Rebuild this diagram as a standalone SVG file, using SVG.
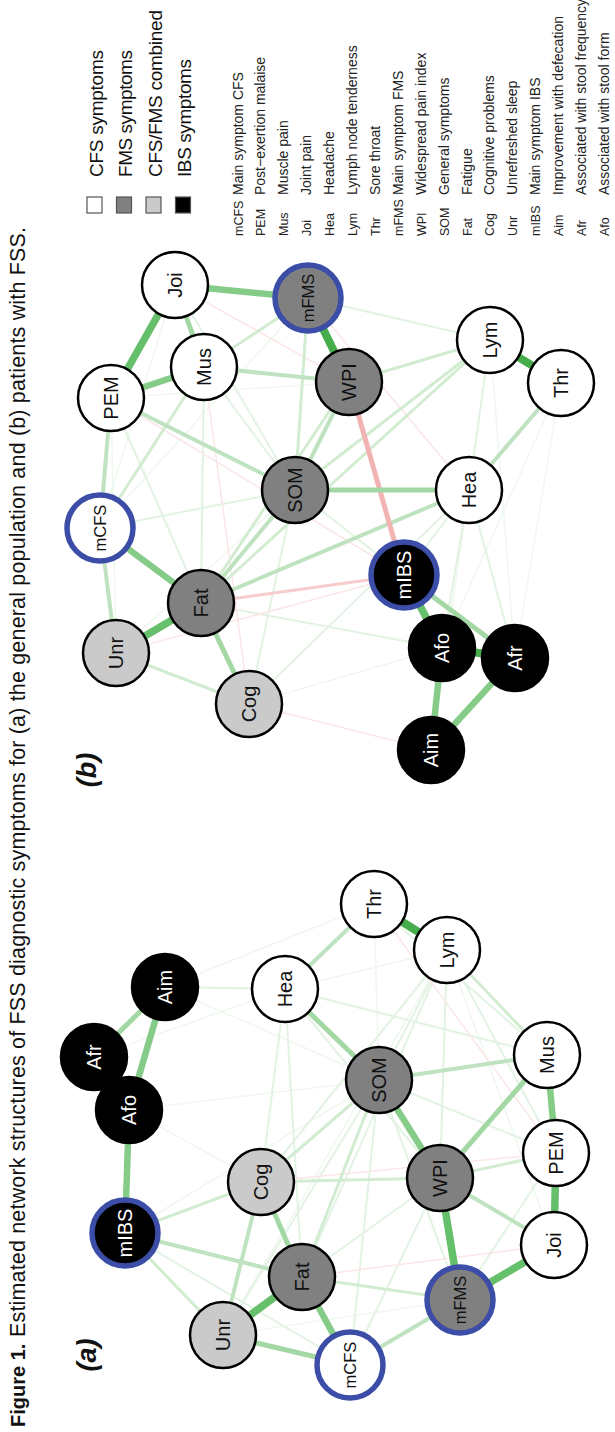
<svg xmlns="http://www.w3.org/2000/svg" width="615" height="1432" viewBox="0 0 615 1432">
  <style>
    text { font-family: "Liberation Sans", Arial, sans-serif; fill: #111; }
    .nd { stroke: #000; stroke-width: 2.5; }
    .main { stroke: #3b4da6; stroke-width: 5.5; }
    .cfs { fill: #ffffff; }
    .fms { fill: #808080; }
    .cmb { fill: #cacaca; }
    .ibs { fill: #000000; }
    .lbl { font-size: 20px; text-anchor: middle; }
    .sm { font-size: 16.5px; }
    .wt { fill: #ffffff; }
    .leg { font-size: 19px; }
    .abbr { font-size: 12.5px; fill: #222; }
    .desc { font-size: 14px; fill: #222; }
    .panel { font-size: 27px; font-weight: bold; font-style: italic; text-anchor: middle; }
    line { stroke-linecap: butt; fill: none; }
    .g1 { stroke: #45ad4c; stroke-width: 8; }
    .g2 { stroke: #66bf6b; stroke-width: 7.5; }
    .g3 { stroke: #85cc88; stroke-width: 6.5; }
    .g4 { stroke: #a3d8a5; stroke-width: 5; }
    .g5 { stroke: #bfe3c0; stroke-width: 4; }
    .g6 { stroke: #d2ecd2; stroke-width: 3; }
    .g7 { stroke: #e3f3e3; stroke-width: 2; }
    .g8 { stroke: #eef8ee; stroke-width: 1.5; }
    .r1 { stroke: #f2b3b3; stroke-width: 5; }
    .r2 { stroke: #f6cccc; stroke-width: 3; }
    .r3 { stroke: #fbe6e6; stroke-width: 1.5; }
  </style>

  <rect x="0" y="0" width="615" height="1432" fill="#ffffff"/>

  <!-- caption, set vertically -->
  <g id="caption">
    <text x="25" y="1427" transform="rotate(-90 25 1427)" font-size="20" font-weight="bold">Figure 1.</text>
    <text x="25" y="1337" transform="rotate(-90 25 1337)" font-size="21.5" textLength="1110" lengthAdjust="spacing">Estimated network structures of FSS diagnostic symptoms for (a) the general population and (b) patients with FSS.</text>
  </g>

  <!-- panel labels -->
  <g id="panel-labels">
    <text class="panel" x="88" y="1355" dy="0.3em" transform="rotate(-90 88 1355)">(a)</text>
    <text class="panel" x="88" y="770" dy="0.3em" transform="rotate(-90 88 770)">(b)</text>
  </g>

  <!-- colour legend -->
  <g id="legend">
    <rect x="87" y="197" width="15" height="16" fill="#ffffff" stroke="#555" stroke-width="1.2"/>
    <rect x="116.5" y="197" width="15" height="16" fill="#808080" stroke="#555" stroke-width="1.2"/>
    <rect x="146" y="197" width="15" height="16" fill="#cacaca" stroke="#555" stroke-width="1.2"/>
    <rect x="175.5" y="197" width="15" height="16" fill="#000000" stroke="#555" stroke-width="1.2"/>
    <text class="leg" x="103" y="177" transform="rotate(-90 103 177)" textLength="127" lengthAdjust="spacing">CFS symptoms</text>
    <text class="leg" x="132" y="177" transform="rotate(-90 132 177)" textLength="127" lengthAdjust="spacing">FMS symptoms</text>
    <text class="leg" x="161.5" y="177" transform="rotate(-90 161.5 177)" textLength="167" lengthAdjust="spacing">CFS/FMS combined</text>
    <text class="leg" x="191" y="177" transform="rotate(-90 191 177)" textLength="118" lengthAdjust="spacing">IBS symptoms</text>
  </g>

  <!-- abbreviation key -->
  <g id="abbreviations">
    <text class="abbr" x="242.5" y="236" transform="rotate(-90 242.5 236)">mCFS</text>
    <text class="desc" x="242.5" y="195" transform="rotate(-90 242.5 195)">Main symptom CFS</text>
    <text class="abbr" x="265.4" y="236" transform="rotate(-90 265.4 236)">PEM</text>
    <text class="desc" x="265.4" y="195" transform="rotate(-90 265.4 195)">Post−exertion malaise</text>
    <text class="abbr" x="288.3" y="236" transform="rotate(-90 288.3 236)">Mus</text>
    <text class="desc" x="288.3" y="195" transform="rotate(-90 288.3 195)">Muscle pain</text>
    <text class="abbr" x="311.2" y="236" transform="rotate(-90 311.2 236)">Joi</text>
    <text class="desc" x="311.2" y="195" transform="rotate(-90 311.2 195)">Joint pain</text>
    <text class="abbr" x="334.1" y="236" transform="rotate(-90 334.1 236)">Hea</text>
    <text class="desc" x="334.1" y="195" transform="rotate(-90 334.1 195)">Headache</text>
    <text class="abbr" x="357" y="236" transform="rotate(-90 357 236)">Lym</text>
    <text class="desc" x="357" y="195" transform="rotate(-90 357 195)">Lymph node tenderness</text>
    <text class="abbr" x="379.9" y="236" transform="rotate(-90 379.9 236)">Thr</text>
    <text class="desc" x="379.9" y="195" transform="rotate(-90 379.9 195)">Sore throat</text>
    <text class="abbr" x="402.8" y="236" transform="rotate(-90 402.8 236)">mFMS</text>
    <text class="desc" x="402.8" y="195" transform="rotate(-90 402.8 195)">Main symptom FMS</text>
    <text class="abbr" x="425.7" y="236" transform="rotate(-90 425.7 236)">WPI</text>
    <text class="desc" x="425.7" y="195" transform="rotate(-90 425.7 195)">Widespread pain index</text>
    <text class="abbr" x="448.6" y="236" transform="rotate(-90 448.6 236)">SOM</text>
    <text class="desc" x="448.6" y="195" transform="rotate(-90 448.6 195)">General symptoms</text>
    <text class="abbr" x="471.5" y="236" transform="rotate(-90 471.5 236)">Fat</text>
    <text class="desc" x="471.5" y="195" transform="rotate(-90 471.5 195)">Fatigue</text>
    <text class="abbr" x="494.4" y="236" transform="rotate(-90 494.4 236)">Cog</text>
    <text class="desc" x="494.4" y="195" transform="rotate(-90 494.4 195)">Cognitive problems</text>
    <text class="abbr" x="517.3" y="236" transform="rotate(-90 517.3 236)">Unr</text>
    <text class="desc" x="517.3" y="195" transform="rotate(-90 517.3 195)">Unrefreshed sleep</text>
    <text class="abbr" x="540.2" y="236" transform="rotate(-90 540.2 236)">mIBS</text>
    <text class="desc" x="540.2" y="195" transform="rotate(-90 540.2 195)">Main symptom IBS</text>
    <text class="abbr" x="563.1" y="236" transform="rotate(-90 563.1 236)">Aim</text>
    <text class="desc" x="563.1" y="195" transform="rotate(-90 563.1 195)">Improvement with defecation</text>
    <text class="abbr" x="586" y="236" transform="rotate(-90 586 236)">Afr</text>
    <text class="desc" x="586" y="195" transform="rotate(-90 586 195)">Associated with stool frequency</text>
    <text class="abbr" x="608.9" y="236" transform="rotate(-90 608.9 236)">Afo</text>
    <text class="desc" x="608.9" y="195" transform="rotate(-90 608.9 195)">Associated with stool form</text>
  </g>

  <!-- connectors of network (a) -->
  <g id="edges-a">
    <!-- faintest -->
    <line class="g8" x1="165" y1="987" x2="374" y2="904"/>
    <line class="g8" x1="94" y1="1057" x2="285" y2="989"/>
    <line class="g8" x1="165" y1="987" x2="379" y2="1080"/>
    <line class="g8" x1="261" y1="1182" x2="129" y2="1110"/>
    <line class="g8" x1="129" y1="1110" x2="379" y2="1080"/>
    <line class="g8" x1="223" y1="1335" x2="460" y2="1300"/>
    <line class="g8" x1="554" y1="1245" x2="547" y2="1055"/>
    <line class="g8" x1="447" y1="950" x2="554" y2="1245"/>
    <line class="g8" x1="374" y1="904" x2="379" y2="1080"/>
    <line class="g8" x1="285" y1="989" x2="447" y2="950"/>
    <line class="g8" x1="223" y1="1335" x2="447" y2="950"/>
    <line class="g8" x1="125" y1="1233" x2="379" y2="1080"/>
    <!-- faint -->
    <line class="g7" x1="285" y1="989" x2="165" y2="987"/>
    <line class="g7" x1="447" y1="950" x2="379" y2="1080"/>
    <line class="g7" x1="447" y1="950" x2="440" y2="1178"/>
    <line class="g7" x1="447" y1="950" x2="556" y2="1153"/>
    <line class="g7" x1="374" y1="904" x2="547" y2="1055"/>
    <line class="g7" x1="285" y1="989" x2="440" y2="1178"/>
    <line class="g7" x1="302" y1="1277" x2="440" y2="1178"/>
    <line class="g7" x1="223" y1="1335" x2="379" y2="1080"/>
    <line class="g7" x1="350" y1="1365" x2="379" y2="1080"/>
    <line class="g7" x1="285" y1="989" x2="261" y2="1182"/>
    <line class="g7" x1="125" y1="1233" x2="350" y2="1365"/>
    <line class="g7" x1="302" y1="1277" x2="447" y2="950"/>
    <line class="g7" x1="350" y1="1365" x2="440" y2="1178"/>
    <line class="g7" x1="379" y1="1080" x2="556" y2="1153"/>
    <line class="g7" x1="285" y1="989" x2="547" y2="1055"/>
    <line class="g7" x1="261" y1="1182" x2="447" y2="950"/>
    <line class="g7" x1="460" y1="1300" x2="556" y2="1153"/>
    <line class="g7" x1="460" y1="1300" x2="379" y2="1080"/>
    <line class="g7" x1="285" y1="989" x2="302" y2="1277"/>
    <line class="r3" x1="302" y1="1277" x2="554" y2="1245"/>
    <line class="r3" x1="261" y1="1182" x2="556" y2="1153"/>
    <line class="r3" x1="374" y1="904" x2="556" y2="1153"/>
    <!-- light -->
    <line class="g6" x1="302" y1="1277" x2="460" y2="1300"/>
    <line class="g6" x1="125" y1="1233" x2="261" y2="1182"/>
    <line class="g6" x1="440" y1="1178" x2="556" y2="1153"/>
    <line class="g6" x1="261" y1="1182" x2="440" y2="1178"/>
    <line class="g6" x1="125" y1="1233" x2="223" y2="1335"/>
    <line class="g6" x1="447" y1="950" x2="547" y2="1055"/>
    <line class="g6" x1="302" y1="1277" x2="379" y2="1080"/>
    <line class="g6" x1="261" y1="1182" x2="379" y2="1080"/>
    <!-- medium -->
    <line class="g5" x1="285" y1="989" x2="374" y2="904"/>
    <line class="g5" x1="350" y1="1365" x2="460" y2="1300"/>
    <line class="g5" x1="440" y1="1178" x2="554" y2="1245"/>
    <line class="g5" x1="125" y1="1233" x2="302" y2="1277"/>
    <line class="g5" x1="379" y1="1080" x2="547" y2="1055"/>
    <line class="g5" x1="223" y1="1335" x2="261" y2="1182"/>
    <line class="g4" x1="223" y1="1335" x2="350" y2="1365"/>
    <line class="g4" x1="440" y1="1178" x2="547" y2="1055"/>
    <line class="g4" x1="302" y1="1277" x2="261" y2="1182"/>
    <line class="g4" x1="285" y1="989" x2="379" y2="1080"/>
    <line class="g4" x1="94" y1="1057" x2="165" y2="987"/>
    <!-- strong -->
    <line class="g3" x1="125" y1="1233" x2="129" y2="1110"/>
    <line class="g3" x1="165" y1="987" x2="129" y2="1110"/>
    <line class="g3" x1="302" y1="1277" x2="350" y2="1365"/>
    <line class="g3" x1="556" y1="1153" x2="547" y2="1055"/>
    <line class="g3" x1="379" y1="1080" x2="440" y2="1178"/>
    <line class="g2" x1="556" y1="1153" x2="554" y2="1245"/>
    <line class="g2" x1="223" y1="1335" x2="302" y2="1277"/>
    <line class="g2" x1="460" y1="1300" x2="554" y2="1245"/>
    <line class="g2" x1="460" y1="1300" x2="440" y2="1178"/>
    <line class="g1" x1="129" y1="1110" x2="94" y2="1057"/>
    <line class="g1" x1="374" y1="904" x2="447" y2="950"/>
  </g>

  <!-- connectors of network (b) -->
  <g id="edges-b">
    <!-- faintest -->
    <line class="g8" x1="111" y1="398" x2="349" y2="382"/>
    <line class="g8" x1="100" y1="528" x2="175" y2="285"/>
    <line class="g8" x1="116" y1="653" x2="111" y2="398"/>
    <line class="g8" x1="431" y1="750" x2="469" y2="490"/>
    <line class="g8" x1="561" y1="383" x2="515" y2="658"/>
    <line class="g8" x1="490" y1="340" x2="515" y2="658"/>
    <line class="g8" x1="249" y1="704" x2="442" y2="648"/>
    <line class="g8" x1="116" y1="653" x2="295" y2="490"/>
    <line class="g8" x1="100" y1="528" x2="308" y2="298"/>
    <line class="g8" x1="561" y1="383" x2="442" y2="648"/>
    <!-- faint -->
    <line class="g7" x1="111" y1="398" x2="201" y2="603"/>
    <line class="g7" x1="308" y1="298" x2="490" y2="340"/>
    <line class="g7" x1="469" y1="490" x2="490" y2="340"/>
    <line class="g7" x1="295" y1="490" x2="249" y2="704"/>
    <line class="g7" x1="100" y1="528" x2="295" y2="490"/>
    <line class="g7" x1="175" y1="285" x2="295" y2="490"/>
    <line class="g7" x1="469" y1="490" x2="404" y2="575"/>
    <line class="g7" x1="469" y1="490" x2="442" y2="648"/>
    <line class="g7" x1="295" y1="490" x2="404" y2="575"/>
    <line class="g7" x1="249" y1="704" x2="469" y2="490"/>
    <line class="g7" x1="204" y1="367" x2="295" y2="490"/>
    <line class="g7" x1="204" y1="367" x2="201" y2="603"/>
    <line class="g7" x1="469" y1="490" x2="515" y2="658"/>
    <line class="g7" x1="201" y1="603" x2="442" y2="648"/>
    <line class="r3" x1="249" y1="704" x2="431" y2="750"/>
    <line class="r3" x1="204" y1="367" x2="249" y2="704"/>
    <line class="r3" x1="308" y1="298" x2="469" y2="490"/>
    <line class="r3" x1="111" y1="398" x2="404" y2="575"/>
    <line class="r3" x1="116" y1="653" x2="404" y2="575"/>
    <line class="r3" x1="175" y1="285" x2="349" y2="382"/>
    <!-- light -->
    <line class="g6" x1="204" y1="367" x2="100" y2="528"/>
    <line class="g6" x1="349" y1="382" x2="490" y2="340"/>
    <line class="g6" x1="116" y1="653" x2="249" y2="704"/>
    <line class="g6" x1="308" y1="298" x2="295" y2="490"/>
    <line class="g6" x1="201" y1="603" x2="349" y2="382"/>
    <line class="g6" x1="295" y1="490" x2="490" y2="340"/>
    <line class="g6" x1="201" y1="603" x2="490" y2="340"/>
    <line class="g6" x1="204" y1="367" x2="308" y2="298"/>
    <!-- medium -->
    <line class="g5" x1="100" y1="528" x2="116" y2="653"/>
    <line class="g5" x1="100" y1="528" x2="111" y2="398"/>
    <line class="g5" x1="295" y1="490" x2="349" y2="382"/>
    <line class="g5" x1="295" y1="490" x2="201" y2="603"/>
    <line class="g5" x1="469" y1="490" x2="561" y2="383"/>
    <line class="g5" x1="111" y1="398" x2="295" y2="490"/>
    <line class="g5" x1="201" y1="603" x2="469" y2="490"/>
    <line class="g5" x1="204" y1="367" x2="349" y2="382"/>
    <line class="r2" x1="201" y1="603" x2="404" y2="575"/>
    <line class="r1" x1="349" y1="382" x2="404" y2="575"/>
    <line class="g4" x1="295" y1="490" x2="469" y2="490"/>
    <line class="g4" x1="175" y1="285" x2="204" y2="367"/>
    <line class="g4" x1="201" y1="603" x2="249" y2="704"/>
    <line class="g4" x1="404" y1="575" x2="515" y2="658"/>
    <!-- strong -->
    <line class="g3" x1="175" y1="285" x2="308" y2="298"/>
    <line class="g3" x1="111" y1="398" x2="204" y2="367"/>
    <line class="g3" x1="100" y1="528" x2="201" y2="603"/>
    <line class="g3" x1="442" y1="648" x2="431" y2="750"/>
    <line class="g3" x1="515" y1="658" x2="431" y2="750"/>
    <line class="g2" x1="175" y1="285" x2="111" y2="398"/>
    <line class="g2" x1="116" y1="653" x2="201" y2="603"/>
    <line class="g2" x1="404" y1="575" x2="442" y2="648"/>
    <line class="g1" x1="442" y1="648" x2="515" y2="658"/>
    <line class="g1" x1="308" y1="298" x2="349" y2="382"/>
    <line class="g1" x1="490" y1="340" x2="561" y2="383"/>
  </g>

  <!-- nodes of network (a) -->
  <g id="a-mIBS"><circle class="ibs main" cx="125" cy="1233" r="33"/><text class="lbl wt" x="125" y="1233" dy="0.35em" transform="rotate(-90 125 1233)" font-size="19">mIBS</text></g>
  <g id="a-Afo"><circle class="ibs nd" cx="129" cy="1110" r="33"/><text class="lbl wt" x="129" y="1110" dy="0.35em" transform="rotate(-90 129 1110)">Afo</text></g>
  <g id="a-Afr"><circle class="ibs nd" cx="94" cy="1057" r="33"/><text class="lbl wt" x="94" y="1057" dy="0.35em" transform="rotate(-90 94 1057)">Afr</text></g>
  <g id="a-Aim"><circle class="ibs nd" cx="165" cy="987" r="33"/><text class="lbl wt" x="165" y="987" dy="0.35em" transform="rotate(-90 165 987)">Aim</text></g>
  <g id="a-Cog"><circle class="cmb nd" cx="261" cy="1182" r="33"/><text class="lbl" x="261" y="1182" dy="0.35em" transform="rotate(-90 261 1182)">Cog</text></g>
  <g id="a-Unr"><circle class="cmb nd" cx="223" cy="1335" r="33"/><text class="lbl" x="223" y="1335" dy="0.35em" transform="rotate(-90 223 1335)">Unr</text></g>
  <g id="a-Fat"><circle class="fms nd" cx="302" cy="1277" r="33"/><text class="lbl" x="302" y="1277" dy="0.35em" transform="rotate(-90 302 1277)">Fat</text></g>
  <g id="a-mCFS"><circle class="cfs main" cx="350" cy="1365" r="33"/><text class="lbl sm" x="350" y="1365" dy="0.35em" transform="rotate(-90 350 1365)">mCFS</text></g>
  <g id="a-mFMS"><circle class="fms main" cx="460" cy="1300" r="33"/><text class="lbl sm" x="460" y="1300" dy="0.35em" transform="rotate(-90 460 1300)">mFMS</text></g>
  <g id="a-WPI"><circle class="fms nd" cx="440" cy="1178" r="33"/><text class="lbl" x="440" y="1178" dy="0.35em" transform="rotate(-90 440 1178)">WPI</text></g>
  <g id="a-SOM"><circle class="fms nd" cx="379" cy="1080" r="33"/><text class="lbl" x="379" y="1080" dy="0.35em" transform="rotate(-90 379 1080)">SOM</text></g>
  <g id="a-Hea"><circle class="cfs nd" cx="285" cy="989" r="33"/><text class="lbl" x="285" y="989" dy="0.35em" transform="rotate(-90 285 989)">Hea</text></g>
  <g id="a-Thr"><circle class="cfs nd" cx="374" cy="904" r="33"/><text class="lbl" x="374" y="904" dy="0.35em" transform="rotate(-90 374 904)">Thr</text></g>
  <g id="a-Lym"><circle class="cfs nd" cx="447" cy="950" r="33"/><text class="lbl" x="447" y="950" dy="0.35em" transform="rotate(-90 447 950)">Lym</text></g>
  <g id="a-Mus"><circle class="cfs nd" cx="547" cy="1055" r="33"/><text class="lbl" x="547" y="1055" dy="0.35em" transform="rotate(-90 547 1055)">Mus</text></g>
  <g id="a-PEM"><circle class="cfs nd" cx="556" cy="1153" r="33"/><text class="lbl" x="556" y="1153" dy="0.35em" transform="rotate(-90 556 1153)">PEM</text></g>
  <g id="a-Joi"><circle class="cfs nd" cx="554" cy="1245" r="33"/><text class="lbl" x="554" y="1245" dy="0.35em" transform="rotate(-90 554 1245)">Joi</text></g>

  <!-- nodes of network (b) -->
  <g id="b-Joi"><circle class="cfs nd" cx="175" cy="285" r="33"/><text class="lbl" x="175" y="285" dy="0.35em" transform="rotate(-90 175 285)">Joi</text></g>
  <g id="b-mFMS"><circle class="fms main" cx="308" cy="298" r="33"/><text class="lbl sm" x="308" y="298" dy="0.35em" transform="rotate(-90 308 298)">mFMS</text></g>
  <g id="b-Mus"><circle class="cfs nd" cx="204" cy="367" r="33"/><text class="lbl" x="204" y="367" dy="0.35em" transform="rotate(-90 204 367)">Mus</text></g>
  <g id="b-PEM"><circle class="cfs nd" cx="111" cy="398" r="33"/><text class="lbl" x="111" y="398" dy="0.35em" transform="rotate(-90 111 398)">PEM</text></g>
  <g id="b-WPI"><circle class="fms nd" cx="349" cy="382" r="33"/><text class="lbl" x="349" y="382" dy="0.35em" transform="rotate(-90 349 382)">WPI</text></g>
  <g id="b-Lym"><circle class="cfs nd" cx="490" cy="340" r="33"/><text class="lbl" x="490" y="340" dy="0.35em" transform="rotate(-90 490 340)">Lym</text></g>
  <g id="b-Thr"><circle class="cfs nd" cx="561" cy="383" r="33"/><text class="lbl" x="561" y="383" dy="0.35em" transform="rotate(-90 561 383)">Thr</text></g>
  <g id="b-SOM"><circle class="fms nd" cx="295" cy="490" r="33"/><text class="lbl" x="295" y="490" dy="0.35em" transform="rotate(-90 295 490)">SOM</text></g>
  <g id="b-Hea"><circle class="cfs nd" cx="469" cy="490" r="33"/><text class="lbl" x="469" y="490" dy="0.35em" transform="rotate(-90 469 490)">Hea</text></g>
  <g id="b-mCFS"><circle class="cfs main" cx="100" cy="528" r="33"/><text class="lbl sm" x="100" y="528" dy="0.35em" transform="rotate(-90 100 528)">mCFS</text></g>
  <g id="b-mIBS"><circle class="ibs main" cx="404" cy="575" r="33"/><text class="lbl wt" x="404" y="575" dy="0.35em" transform="rotate(-90 404 575)" font-size="19">mIBS</text></g>
  <g id="b-Fat"><circle class="fms nd" cx="201" cy="603" r="33"/><text class="lbl" x="201" y="603" dy="0.35em" transform="rotate(-90 201 603)">Fat</text></g>
  <g id="b-Unr"><circle class="cmb nd" cx="116" cy="653" r="33"/><text class="lbl" x="116" y="653" dy="0.35em" transform="rotate(-90 116 653)">Unr</text></g>
  <g id="b-Afo"><circle class="ibs nd" cx="442" cy="648" r="33"/><text class="lbl wt" x="442" y="648" dy="0.35em" transform="rotate(-90 442 648)">Afo</text></g>
  <g id="b-Afr"><circle class="ibs nd" cx="515" cy="658" r="33"/><text class="lbl wt" x="515" y="658" dy="0.35em" transform="rotate(-90 515 658)">Afr</text></g>
  <g id="b-Cog"><circle class="cmb nd" cx="249" cy="704" r="33"/><text class="lbl" x="249" y="704" dy="0.35em" transform="rotate(-90 249 704)">Cog</text></g>
  <g id="b-Aim"><circle class="ibs nd" cx="431" cy="750" r="33"/><text class="lbl wt" x="431" y="750" dy="0.35em" transform="rotate(-90 431 750)">Aim</text></g>
</svg>
